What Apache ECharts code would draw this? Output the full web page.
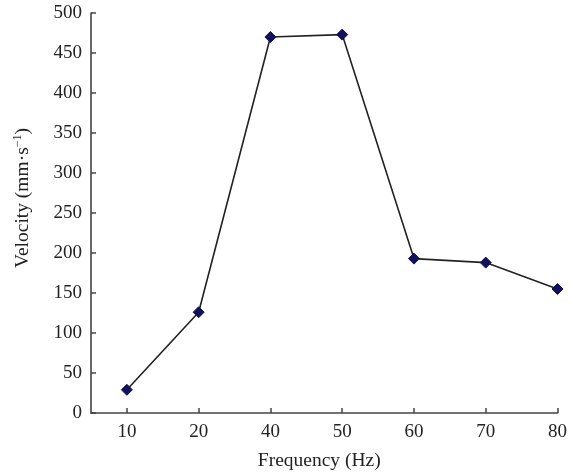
<!DOCTYPE html>
<html>
<head>
<meta charset="utf-8">
<script src="https://cdn.jsdelivr.net/npm/echarts@6/dist/echarts.min.js"></script>
<style>html,body{margin:0;padding:0;background:#fff;}#c{width:570px;height:476px;}</style>
</head>
<body>
<div id="c"></div>
<script>
const categories = ['10', '20', '40', '50', '60', '70', '80'];
const velocity = [29, 126, 470, 473, 193, 188, 155];
const yTicks = [0, 50, 100, 150, 200, 250, 300, 350, 400, 450, 500];

const FONT = '"Liberation Serif", "Times New Roman", serif';
const chart = echarts.init(document.getElementById('c'), null, {renderer: 'canvas'});
const idx = categories.map((c, i) => i);
chart.setOption({
  animation: false,
  backgroundColor: '#fff',
  grid: {left: 91, right: 10, top: 13, bottom: 61, containLabel: false},
  xAxis: {
    type: 'value',
    min: -0.5,
    max: categories.length - 1,
    name: 'Frequency (Hz)',
    nameLocation: 'middle',
    nameGap: 38,
    nameTextStyle: {fontFamily: FONT, fontSize: 19.5, color: '#222', padding: [0, 10, 0, 0]},
    splitLine: {show: false},
    axisLine: {onZero: false, lineStyle: {color: '#444', width: 1.6}},
    axisTick: {inside: true, length: 5, customValues: idx, lineStyle: {color: '#444', width: 1.5}},
    axisLabel: {
      customValues: idx,
      margin: 10,
      fontFamily: FONT, fontSize: 19, color: '#222',
      formatter: v => categories[Math.round(v)]
    }
  },
  yAxis: {
    type: 'value',
    min: yTicks[0],
    max: yTicks[yTicks.length - 1],
    interval: yTicks[1] - yTicks[0],
    name: '{a|Velocity (mm·s}{s|−1}{a|)}',
    nameLocation: 'middle',
    nameGap: 57,
    nameRotate: 90,
    nameTextStyle: {
      padding: [0, 0, 0, 30],
      rich: {
        a: {fontFamily: FONT, fontSize: 19.5, color: '#222'},
        s: {fontFamily: FONT, fontSize: 12, color: '#222', verticalAlign: 'top', padding: [0, 0, 10, 0]}
      }
    },
    splitLine: {show: false},
    axisLine: {show: true, onZero: false, lineStyle: {color: '#444', width: 1.6}},
    axisTick: {show: true, inside: true, length: 5, lineStyle: {color: '#444', width: 1.5}},
    axisLabel: {margin: 9, fontFamily: FONT, fontSize: 19, color: '#222'}
  },
  series: [{
    type: 'line',
    data: velocity.map((v, i) => [i, v]),
    symbol: 'diamond',
    symbolSize: 11,
    itemStyle: {color: '#12125a', borderColor: '#12125a'},
    lineStyle: {color: '#222', width: 1.6}
  }]
});
</script>
</body>
</html>
